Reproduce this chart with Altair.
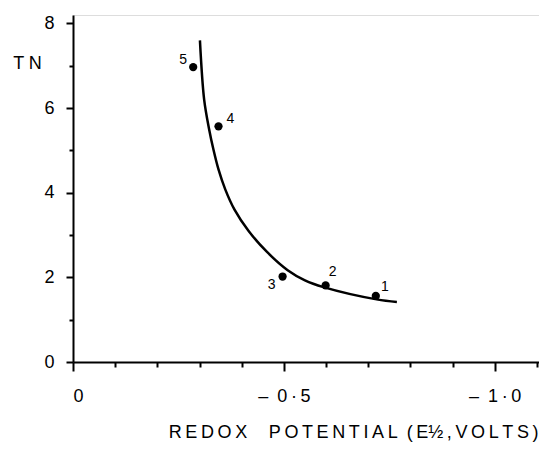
import altair as alt
import pandas as pd

# Measured points (redox potential in volts, TN)
point_ids = ["1", "2", "3", "4", "5"]
point_x = [-0.718, -0.599, -0.497, -0.345, -0.285]
point_y = [1.56, 1.81, 2.02, 5.57, 6.97]

# Fitted curve
curve_x = [-0.301, -0.311, -0.323, -0.333, -0.345, -0.361, -0.383, -0.416, -0.460, -0.509, -0.550, -0.594, -0.720, -0.768]
curve_y = [7.60, 6.20, 5.49, 5.02, 4.55, 4.08, 3.60, 3.10, 2.60, 2.17, 1.93, 1.77, 1.48, 1.42]

x_major = [0, -0.5, -1.0]
x_minor = [-0.1, -0.2, -0.3, -0.4, -0.6, -0.7, -0.8, -0.9, -1.1]
y_major = [0, 2, 4, 6, 8]
y_minor = [1, 3, 5, 7]

x_title = "R\u2009E\u2009D\u2009O\u2009X\u2003\u2009P\u2009O\u2009T\u2009E\u2009N\u2009T\u2009I\u2009A\u2009L\u2002(\u2009E\u00bd\u2009,\u2009V\u2009O\u2009L\u2009T\u2009S\u2009)"

pts = pd.DataFrame({"id": point_ids, "x": point_x, "y": point_y})
crv = pd.DataFrame({"i": list(range(len(curve_x))), "x": curve_x, "y": curve_y})

FONT = "Liberation Sans"
xscale = alt.Scale(domain=[-1.105, 0], reverse=True, nice=False, zero=False)
yscale = alt.Scale(domain=[0, 8.2], nice=False, zero=False)

label_expr = (
    "datum.value == 0 ? '0' : '\u2013\u2002' + "
    "replace(format(abs(datum.value), '.1f'), '.', '\u2009\u00b7\u2009') + '\u2002\u2002\u2009'"
)

x_axis_major = alt.Axis(
    values=x_major, orient="bottom", tickSize=9, tickWidth=2, tickColor="black",
    domainColor="black", domainWidth=2, labelFont=FONT, labelFontSize=18,
    labelColor="black", labelBaseline="middle", labelPadding=25, labelExpr=label_expr,
    title=x_title, titleFont=FONT, titleFontSize=18, titleFontWeight="normal",
    titleColor="black", titleAlign="right", titleBaseline="middle",
    titleX=465, titleY=70, grid=False,
)
y_axis_major = alt.Axis(
    values=y_major, orient="left", tickSize=7, tickWidth=2, tickColor="black",
    domainColor="black", domainWidth=2, labelFont=FONT, labelFontSize=18,
    labelColor="black", labelPadding=12, format="d",
    title="T N", titleFont=FONT, titleFontSize=18, titleFontWeight="normal",
    titleColor="black", titleAngle=0, titleAlign="center", titleBaseline="middle",
    titleX=-46, titleY=48, grid=False,
)
x_axis_minor = alt.Axis(values=x_minor, orient="bottom", tickSize=5, tickWidth=2,
                        tickColor="black", domain=False, labels=False, title=None, grid=False)
y_axis_minor = alt.Axis(values=y_minor, orient="left", tickSize=4, tickWidth=2,
                        tickColor="black", domain=False, labels=False, title=None, grid=False)

curve = alt.Chart(crv).mark_line(color="black", strokeWidth=2.5, interpolate="catmull-rom").encode(
    x=alt.X("x:Q", scale=xscale, axis=x_axis_minor),
    y=alt.Y("y:Q", scale=yscale, axis=y_axis_minor),
    order="i:Q",
)

points = alt.Chart(pts).mark_circle(color="black", opacity=1, size=68).encode(
    x=alt.X("x:Q", scale=xscale, axis=x_axis_major),
    y=alt.Y("y:Q", scale=yscale, axis=y_axis_major),
)

offsets = {"1": (9, -9), "2": (7, -13), "3": (-11, 8), "4": (12, -7), "5": (-10, -7)}
labels = []
for pid, (dx, dy) in offsets.items():
    labels.append(
        alt.Chart(pts).transform_filter(alt.datum.id == pid)
        .mark_text(font=FONT, fontSize=14, color="black", dx=dx, dy=dy,
                   align="center", baseline="middle")
        .encode(x=alt.X("x:Q", scale=xscale, axis=None),
                y=alt.Y("y:Q", scale=yscale, axis=None),
                text="id:N")
    )

chart = alt.layer(curve, points, *labels).resolve_axis(x="independent", y="independent").properties(
    width=466, height=347,
    autosize=alt.AutoSizeParams(type="none"),
    padding={"left": 65, "top": 7, "right": 0, "bottom": 81},
).configure_view(stroke=None).configure(background="white")

chart.save("out.html", embed_options={"renderer": "svg", "actions": False})
